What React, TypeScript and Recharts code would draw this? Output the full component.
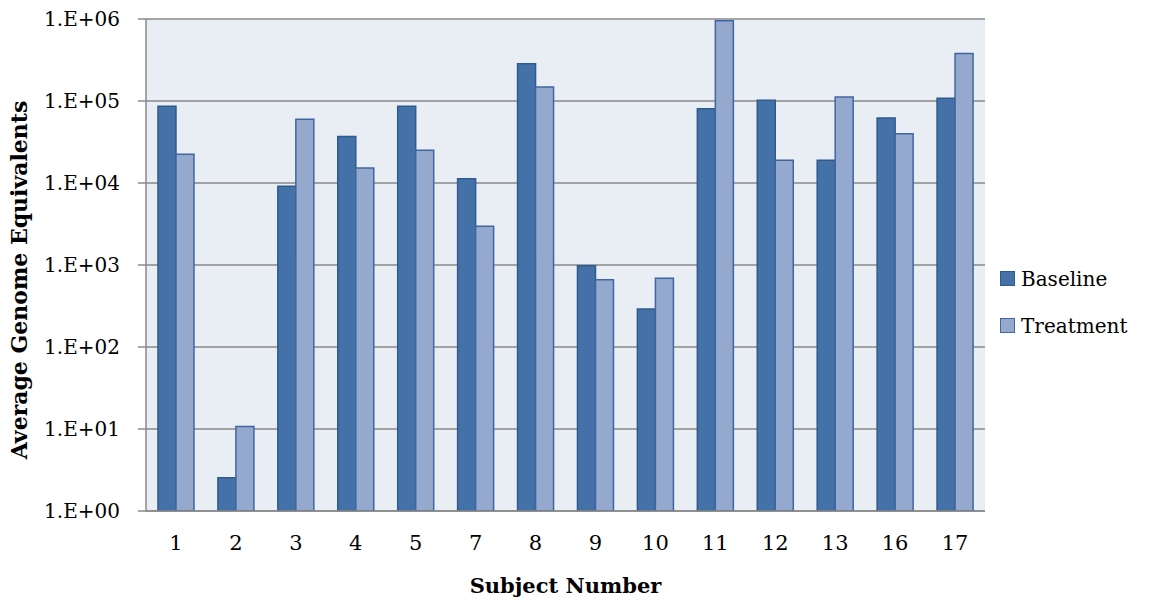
import { BarChart, Bar, XAxis, YAxis, CartesianGrid } from 'recharts'

const subjects = ['1', '2', '3', '4', '5', '7', '8', '9', '10', '11', '12', '13', '16', '17']
const baseline = [86000, 2.55, 9100, 37000, 86000, 11300, 285000, 980, 290, 80600, 102000, 18900, 62000, 108000]
const treatment = [22400, 10.7, 60000, 15200, 25000, 2960, 148000, 660, 690, 955000, 18900, 112000, 40000, 380000]
const yTicks = [1, 10, 100, 1000, 10000, 100000, 1000000]

const data = subjects.map((s, i) => ({ subject: s, baseline: baseline[i], treatment: treatment[i] }))

const FONT = '"DejaVu Serif", serif'
const BASE_FILL = '#4472A8'
const BASE_STROKE = '#2F5A8D'
const TREAT_FILL = '#95A9CF'
const TREAT_STROKE = '#3F66A0'

function fmtTick(v: number) {
  const e = Math.round(Math.log10(v))
  return `1.E+${String(e).padStart(2, '0')}`
}

function YTitle({ viewBox }: { viewBox?: { x: number; y: number; width: number; height: number } }) {
  if (!viewBox) return null
  const x = viewBox.x + 19
  const y = viewBox.y + viewBox.height / 2 + 15
  return (
    <text
      x={x}
      y={y}
      transform={`rotate(-90, ${x}, ${y})`}
      textAnchor="middle"
      dominantBaseline="central"
      fontFamily={FONT}
      fontWeight="bold"
      fontSize={22}
      fill="#000"
    >
      Average Genome Equivalents
    </text>
  )
}

function XTitle({ viewBox }: { viewBox?: { x: number; y: number; width: number; height: number } }) {
  if (!viewBox) return null
  return (
    <text
      x={viewBox.x + viewBox.width / 2}
      y={viewBox.y + 74}
      textAnchor="middle"
      dominantBaseline="central"
      fontFamily={FONT}
      fontWeight="bold"
      fontSize={21}
      fill="#000"
    >
      Subject Number
    </text>
  )
}

function LegendBox() {
  const items = [
    { name: 'Baseline', fill: BASE_FILL, stroke: BASE_STROKE },
    { name: 'Treatment', fill: TREAT_FILL, stroke: TREAT_STROKE },
  ]
  return (
    <div
      style={{
        position: 'absolute',
        left: 1000,
        top: 255,
        fontFamily: FONT,
        fontSize: 20,
        color: '#000',
        whiteSpace: 'nowrap',
      }}
    >
      {items.map(it => (
        <div key={it.name} style={{ display: 'flex', alignItems: 'center', height: 47 }}>
          <span
            style={{
              width: 13,
              height: 13,
              background: it.fill,
              border: `1.5px solid ${it.stroke}`,
              marginRight: 6,
              display: 'inline-block',
            }}
          />
          {it.name}
        </div>
      ))}
    </div>
  )
}

export default function App() {
  return (
    <div style={{ position: 'absolute', left: 0, top: 0, width: 1151, height: 603, background: '#fff' }}>
      <BarChart
        width={1151}
        height={603}
        data={data}
        margin={{ top: 19, right: 166, left: 0, bottom: 0 }}
        barCategoryGap="20%"
        barGap={0}
      >
        <CartesianGrid
          vertical={false}
          stroke="#888888"
          strokeWidth={1.5}
          fill="#E9EDF4"
          fillOpacity={1}
        />
        <XAxis
          dataKey="subject"
          height={92}
          tickLine={false}
          axisLine={{ stroke: '#888888', strokeWidth: 1.5 }}
          tick={{ fill: '#000', fontSize: 21, fontFamily: FONT }}
          tickMargin={18}
          interval={0}
          label={<XTitle />}
        />
        <YAxis
          scale="log"
          domain={[1, 1000000]}
          ticks={yTicks}
          allowDataOverflow
          width={146}
          tickSize={8}
          tickMargin={18}
          tickLine={{ stroke: '#888888', strokeWidth: 1.5 }}
          axisLine={{ stroke: '#888888', strokeWidth: 1.5 }}
          tick={{ fill: '#000', fontSize: 20, fontFamily: FONT }}
          tickFormatter={fmtTick}
          label={<YTitle />}
        />
        <Bar
          dataKey="baseline"
          name="Baseline"
          fill={BASE_FILL}
          stroke={BASE_STROKE}
          strokeWidth={1.5}
          isAnimationActive={false}
        />
        <Bar
          dataKey="treatment"
          name="Treatment"
          fill={TREAT_FILL}
          stroke={TREAT_STROKE}
          strokeWidth={1.5}
          isAnimationActive={false}
        />
      </BarChart>
      <LegendBox />
    </div>
  )
}
